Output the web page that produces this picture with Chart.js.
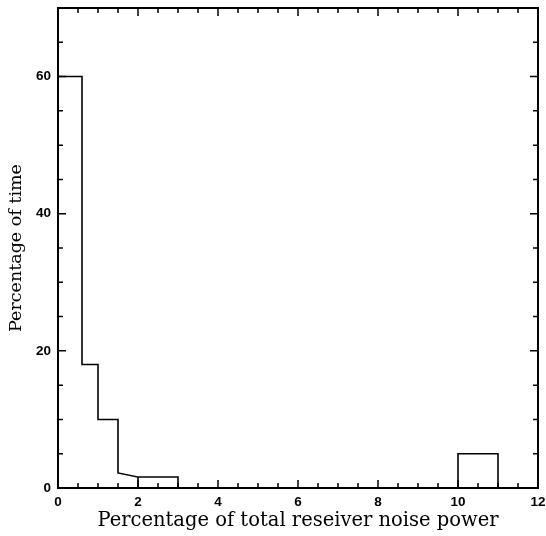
<!DOCTYPE html>
<html>
<head>
<meta charset="utf-8">
<script src="https://cdn.jsdelivr.net/npm/chart.js@4.4.1/dist/chart.umd.min.js"></script>
<style>
    html, body { margin: 0; padding: 0; background: #fff; }
    #wrap { width: 546px; height: 536px; }
</style>
</head>
<body>
<div id="wrap"><canvas id="noiseHist"></canvas></div>
<script>
// Histogram bins (percentage of receiver noise power) and heights (percentage of time)
const binStart = [0, 0.6, 1.0, 1.5, 2.0, 10.0];
const binEnd = [0.6, 1.0, 1.5, 2.0, 3.0, 11.0];
const binTopLeft = [60, 18, 10, 2.2, 1.6, 5];
const binTopRight = [60, 18, 10, 1.6, 1.6, 5];
const binGroup = [0, 0, 0, 0, 1, 2];

const xTickValues = [0, 2, 4, 6, 8, 10, 12];
const yTickValues = [0, 20, 40, 60];
const xMinorStep = 0.5;
const yMinorStep = 5;

// Build the step outline, one shape per group, separated by gaps
const outline = [];
binStart.forEach((x0, i) => {
    const newGroup = i === 0 || binGroup[i] !== binGroup[i - 1];
    if (newGroup) {
        if (i > 0) {
            outline.push({ x: binEnd[i - 1], y: 0 });
            outline.push({ x: binEnd[i - 1], y: null });
        }
        outline.push({ x: x0, y: 0 });
    }
    outline.push({ x: x0, y: binTopLeft[i] });
    outline.push({ x: binEnd[i], y: binTopRight[i] });
});
outline.push({ x: binEnd[binEnd.length - 1], y: 0 });

// Inward tick marks on all four sides plus the frame
const frameTicks = {
    id: 'frameTicks',
    afterDraw(chart) {
        const { ctx, chartArea: a, scales: { x, y } } = chart;
        ctx.save();
        ctx.strokeStyle = '#000';
        ctx.lineWidth = 1.5;
        ctx.beginPath();
        for (let v = x.min; v <= x.max + 1e-9; v += xMinorStep) {
            const px = x.getPixelForValue(v);
            const len = xTickValues.includes(Math.round(v * 10) / 10) ? 8 : 5;
            ctx.moveTo(px, a.bottom); ctx.lineTo(px, a.bottom - len);
            ctx.moveTo(px, a.top); ctx.lineTo(px, a.top + len);
        }
        for (let v = y.min; v <= y.max + 1e-9; v += yMinorStep) {
            const py = y.getPixelForValue(v);
            const len = yTickValues.includes(v) ? 8 : 5;
            ctx.moveTo(a.left, py); ctx.lineTo(a.left + len, py);
            ctx.moveTo(a.right, py); ctx.lineTo(a.right - len, py);
        }
        ctx.stroke();
        ctx.lineWidth = 2;
        ctx.strokeRect(a.left, a.top, a.right - a.left, a.bottom - a.top);
        ctx.restore();
    }
};

const tickFont = { family: 'Liberation Sans', size: 13.5, weight: 'bold' };

new Chart(document.getElementById('noiseHist'), {
    type: 'line',
    data: {
        datasets: [{
            data: outline,
            borderColor: '#000',
            borderWidth: 1.6,
            pointRadius: 0,
            fill: false,
            tension: 0,
            spanGaps: false
        }]
    },
    options: {
        responsive: true,
        maintainAspectRatio: false,
        animation: false,
        layout: { padding: { top: 8, right: 8, left: 0, bottom: 0 } },
        plugins: { legend: { display: false }, tooltip: { enabled: false } },
        scales: {
            x: {
                type: 'linear',
                min: 0,
                max: 12,
                afterBuildTicks: (s) => { s.ticks = xTickValues.map(v => ({ value: v })); },
                afterFit: (s) => { s.height = 48; s.paddingLeft = 0; s.paddingRight = 0; },
                grid: { display: false, drawTicks: false },
                border: { display: true, color: '#000', width: 2 },
                ticks: { color: '#000', font: tickFont, padding: 6, maxRotation: 0 },
                title: {
                    display: true,
                    text: 'Percentage of total reseiver noise power',
                    color: '#000',
                    font: { family: 'DejaVu Serif', size: 19.5 },
                    padding: { top: 0, bottom: 3 }
                }
            },
            y: {
                type: 'linear',
                min: 0,
                max: 70,
                afterBuildTicks: (s) => { s.ticks = yTickValues.map(v => ({ value: v })); },
                afterFit: (s) => { s.width = 58; s.paddingTop = 0; s.paddingBottom = 0; },
                grid: { display: false, drawTicks: false },
                border: { display: true, color: '#000', width: 2 },
                ticks: { color: '#000', font: tickFont, padding: 7 },
                title: {
                    display: true,
                    text: 'Percentage of time',
                    color: '#000',
                    font: { family: 'DejaVu Serif', size: 17.5 },
                    padding: { top: 6, bottom: 0 }
                }
            }
        }
    },
    plugins: [frameTicks]
});
</script>
</body>
</html>
